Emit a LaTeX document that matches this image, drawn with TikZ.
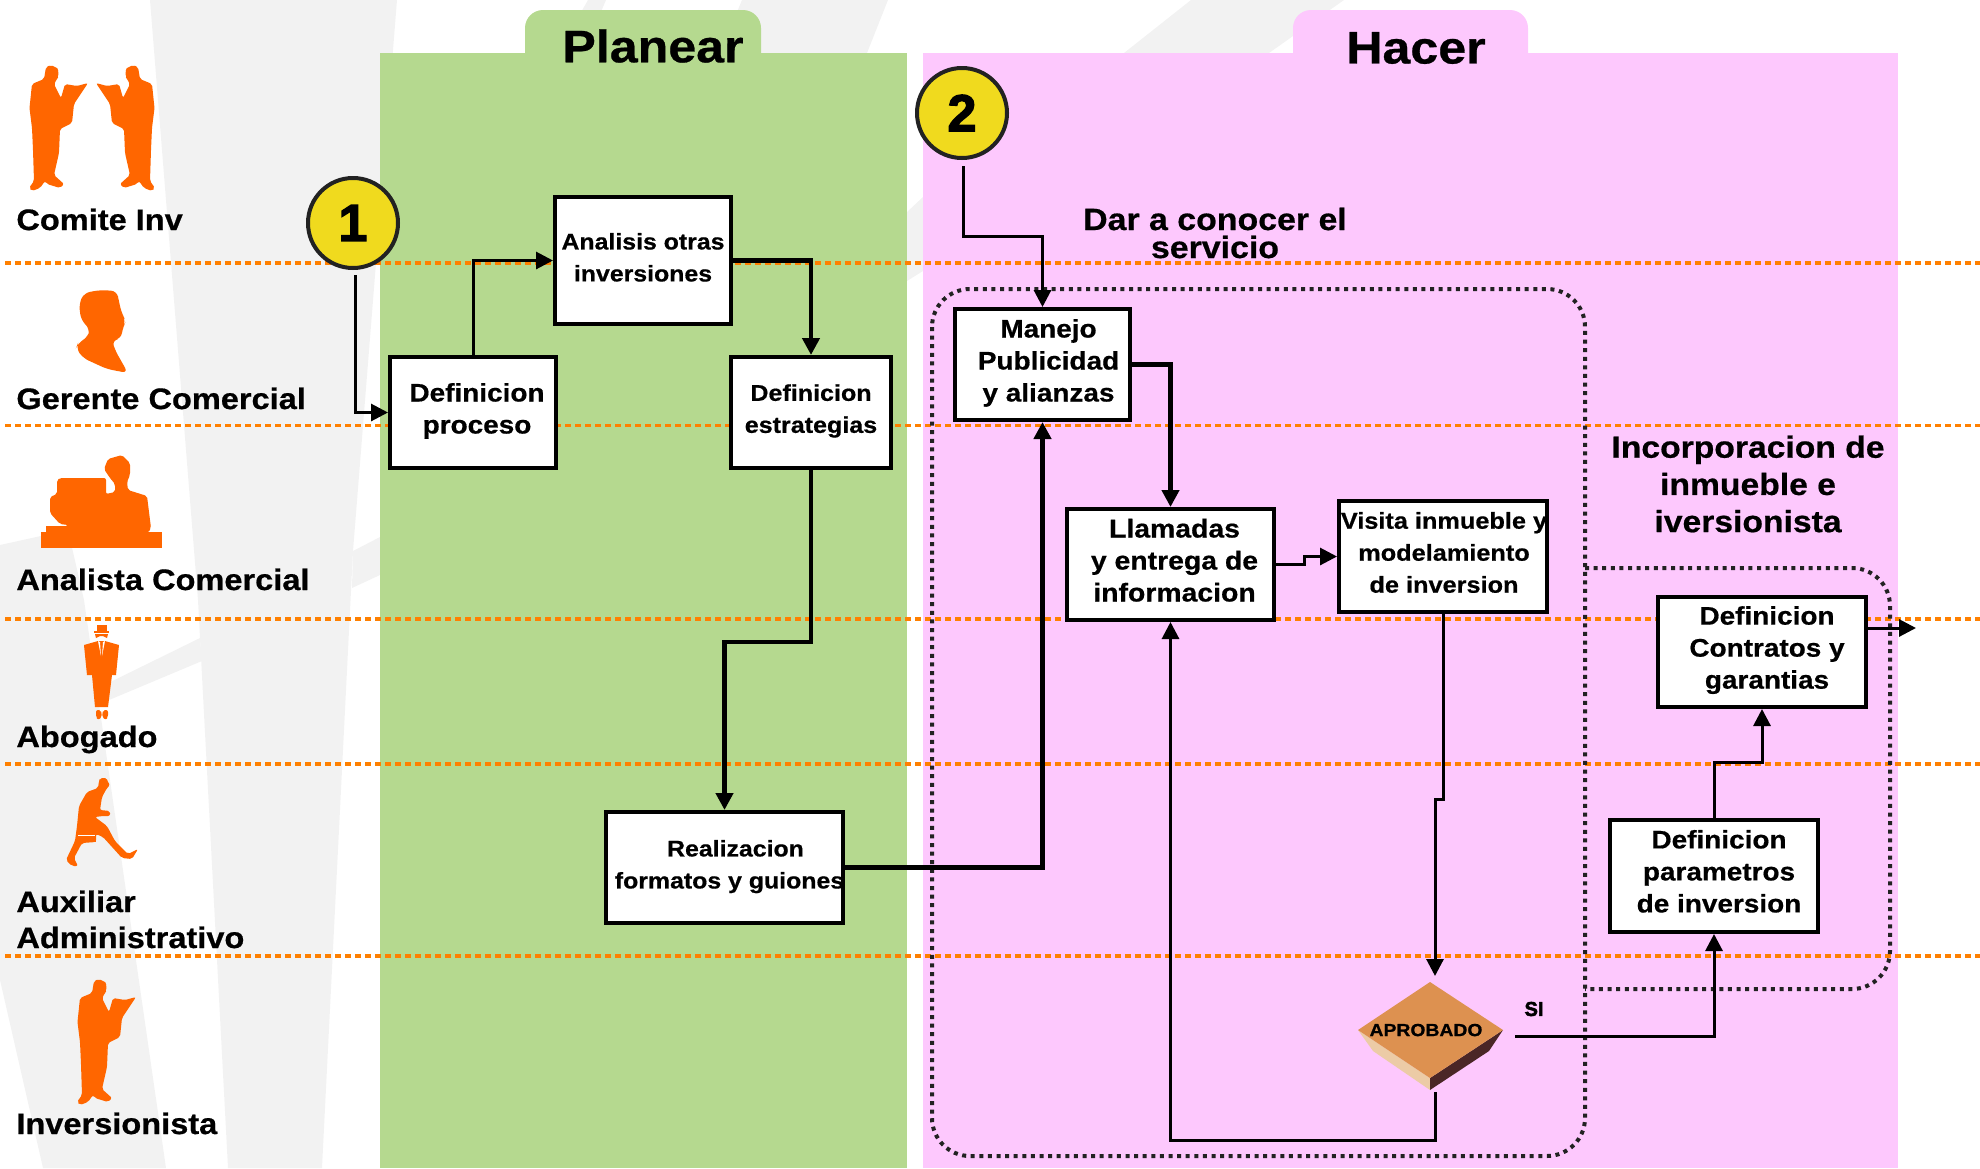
\documentclass[tikz,border=0pt]{standalone}
\usepackage{fontspec}
\setmainfont{Liberation Sans}
\newfontfamily\wf[FakeStretch=1.1,FakeBold=0.6]{Liberation Sans}
\newfontfamily\hv[FakeBold=2.5]{Liberation Sans}
\usetikzlibrary{arrows.meta,calc}
\definecolor{bggray}{HTML}{F2F2F2}
\definecolor{panelgreen}{HTML}{B5D98F}
\definecolor{panelpink}{HTML}{FDC8FD}
\definecolor{laneorange}{HTML}{FF8000}
\definecolor{figorange}{HTML}{FF6600}
\definecolor{badge}{HTML}{F0DA1E}
\definecolor{dotgray}{HTML}{222222}
\definecolor{diaface}{HTML}{DD9150}
\definecolor{dialeft}{HTML}{ECCBA6}
\definecolor{diaright}{HTML}{4A2626}
\newcommand\fs[2]{\fontsize{#1}{#2}\selectfont}
% text of a box, offset from the box centre (dx in half-pt, dy in pt)
\newcommand\tb[3]{\smash{\makebox[0pt]{\hspace*{#1pt}\raisebox{#2pt}{\begin{tabular}[c]{@{}c@{}}#3\end{tabular}}}}}
\newcommand\readerpath{(94,981) -- (99,979) -- (107,983) -- (105.5,987) -- (107,990) -- (105,993) -- (102,998) -- (109,1012) -- (113,998) -- (125,1000) -- (136,997) -- (128,1009) -- (122,1018) -- (120,1037) -- (108,1043) -- (107,1067) -- (102,1089) -- (112,1098) -- (108,1102) -- (95,1098) -- (93,1095) -- (88,1102) -- (80,1105) -- (77,1102) -- (82,1095) -- (81,1064) -- (80,1042) -- (77.5,1022) -- (80,998) -- (92,993) -- (93,987) -- cycle}
\tikzset{
  x=0.5pt,y=-0.5pt,
  every node/.style={inner sep=0pt},
  tile/.style={fill=bggray},
  lane/.style={draw=laneorange,line width=1.7pt,dash pattern=on 3.2pt off 1.8pt},
  zone/.style={draw=dotgray,line width=2pt,dash pattern=on 2pt off 2.3pt,rounded corners=19pt},
  fig/.style={fill=figorange,rounded corners=1pt},
  whoname/.style={anchor=base west,font=\wf\bfseries\fs{14.8}{18},align=left},
  stepbox/.style n args={2}{draw=black,fill=white,line width=2pt,minimum width=#1*0.5pt,minimum height=#2*0.5pt},
  badgenode/.style={circle,draw=dotgray,fill=badge,line width=2pt,minimum size=45pt,font=\hv\bfseries\fs{26}{26}},
  link/.style={draw=black,line width=2.3pt,-{Triangle[length=8.5pt,width=8.5pt]}},
  thinlink/.style={draw=black,line width=1.5pt,-{Triangle[length=8.5pt,width=8.5pt]}},
  phase/.style={font=\wf\bfseries\fs{22.8}{26}},
  heading/.style={font=\wf\bfseries\fs{15.4}{14},align=center},
}
\begin{document}
\begin{tikzpicture}
\useasboundingbox (0,0) rectangle (1980,1168);
% background tiles
\fill[tile] (150,0) -- (397,0) -- (353,551) -- (322,1168) -- (228,1168) -- (198,600) -- cycle;
\fill[tile] (0,545) -- (68,530) -- (84,600) -- (166,1168) -- (43,1168) -- (0,980) -- cycle;
\fill[tile] (90,692) -- (200,638) -- (202,661) -- (90,708) -- cycle;
\fill[tile] (353,551) -- (380,537) -- (380,575) -- (352,588) -- cycle;
\fill[tile] (907,212) -- (923,197) -- (923,271) -- (907,281) -- cycle;
\fill[tile] (1191,0) -- (1344,0) -- (1269,53) -- (1124,53) -- cycle;
\fill[tile] (742,0) -- (888,0) -- (867,53) -- (720,53) -- cycle;
\fill[tile] (588,0) -- (606,0) -- (600,14) -- (580,14) -- cycle;
% panels
\fill[panelgreen,rounded corners=9pt] (525,80) -- (525,10) -- (761,10) -- (761,80) -- cycle;
\fill[panelgreen] (380,53) rectangle (907,1168);
\fill[panelpink,rounded corners=9pt] (1293,80) -- (1293,10) -- (1528,10) -- (1528,80) -- cycle;
\fill[panelpink] (923,53) rectangle (1898,1168);
% lanes
\foreach \yy in {263,425.5,619,764,956} \draw[lane] (5,\yy) -- (1980,\yy);
% dotted zones
\draw[zone] (932,289) rectangle (1585,1156);
\draw[zone] (1585,568) -- (1890,568) -- (1890,989) -- (1585,989);
% figures
\fill[fig,shift={(-48,-914)}] \readerpath;
\fill[fig,shift={(232,-914)},xscale=-1] \readerpath;
\fill[fig] \readerpath;
\fill[fig,rounded corners=3pt] (79,304) -- (84,293) -- (100,290) -- (117,291) -- (119,302) -- (122,314) -- (126,321) -- (123,327) -- (121,339) -- (112,340) -- (115,350) -- (128,373) -- (107,369) -- (83,358) -- (76,348) -- (78,343) -- (88,337) -- (90,329) -- (81,320) -- cycle;
\fill[figorange] (41,532) rectangle (162,548);
\fill[figorange] (46,526) rectangle (70,534);
\fill[fig] (57,480) -- (60,478) -- (106,478) -- (106,494) -- (115,492) -- (115,484) -- (110,478) -- (104,469) -- (108,459) -- (122,455) -- (130,463) -- (130,475) -- (127,482) -- (128,490) -- (147,496) -- (151,528) -- (148,533) -- (68,533) -- (68,525) -- (60,524) -- (50,513) -- (50,497) -- (57,494) -- cycle;
% lawyer
\fill[figorange] (97,625) rectangle (107,631);
\fill[figorange] (94,630.5) rectangle (109,632.5);
\fill[figorange] (95,634) -- (108,634) -- (107,638) -- (103,636) -- (100,636) -- (96,638) -- cycle;
\fill[figorange] (84,645) -- (98,641) -- (105,641) -- (119,645) -- (116,675) -- (112,675) -- (108,707) -- (95,707) -- (92,675) -- (87,675) -- cycle;
\fill[white] (98,641) -- (101,656) -- (100,642) -- cycle;
\fill[white] (105,641) -- (102,656) -- (103,642) -- cycle;
\fill[fig] (96,710) -- (101,710) -- (102,717) -- (98,720) -- (96,717) -- cycle;
\fill[fig] (108,710) -- (103,710) -- (102,717) -- (106,720) -- (108,717) -- cycle;
% runner
\fill[fig] (99,781) -- (100,778) -- (107,778) -- (108,783) -- (110,785) -- (107,788) -- (102,797) -- (100,810) -- (110,811) -- (110,816) -- (103,816) -- (95,817) -- (107,826) -- (115,841) -- (128,854) -- (138,849) -- (132,859) -- (122,858) -- (103,837) -- (96,834) -- (96,842) -- (82,843) -- (74,858) -- (78,866) -- (72,866) -- (66,860) -- (75,841) -- (77,826) -- (79,806) -- (87,792) -- (98,788) -- cycle;
\fill[figorange] (77,828) rectangle (96,842);
\draw[white,line width=.5pt] (78,835) -- (95,835);
% diamond faces
\fill[dialeft] (1358,1030) -- (1430,1078) -- (1430,1090) -- (1373,1051) -- cycle;
\fill[diaright] (1503,1030) -- (1430,1078) -- (1430,1090) -- (1489,1051) -- cycle;
\fill[diaface] (1430,982) -- (1503,1030) -- (1430,1078) -- (1358,1030) -- cycle;
% role names
\node[whoname] (rComite) at (16,230) {Comite Inv};
\node[whoname] (rGerente) at (16,409) {Gerente Comercial};
\node[whoname] (rAnalista) at (16,590) {Analista Comercial};
\node[whoname] (rAbogado) at (16,747) {Abogado};
\node[whoname] (rAux1) at (16,912) {Auxiliar};
\node[whoname] (rAux2) at (16,948) {Administrativo};
\node[whoname] (rInv) at (16,1134) {Inversionista};
% titles
\node[phase] (tPlanear) at (653,46) {Planear};
\node[phase] (tHacer) at (1416,48) {Hacer};
\node[heading] (tDar) at (1215,233) {Dar a conocer el\\servicio};
\node[heading,font=\wf\bfseries\fs{15.3}{18.6}] (tInc) at (1748,484) {Incorporacion de\\inmueble e\\iversionista};
% process boxes
\node[stepbox={176}{127},font=\wf\bfseries\fs{11.3}{16}] (an) at (643,260.5) {\tb{0}{-2}{Analisis otras\\inversiones}};
\node[stepbox={166}{111},font=\wf\bfseries\fs{12.7}{16}] (dp) at (473,412.5) {\tb{4}{-2.3}{Definicion\\proceso}};
\node[stepbox={160}{111},font=\wf\bfseries\fs{11.4}{16}] (de) at (811,412.5) {\tb{0}{-1.7}{Definicion\\estrategias}};
\node[stepbox={237}{111},font=\wf\bfseries\fs{11.3}{16}] (re) at (724.5,867.5) {\tb{5}{-2}{\hspace*{6pt}Realizacion\\formatos y guiones}};
\node[stepbox={175}{111},font=\wf\bfseries\fs{12.7}{16}] (ma) at (1042.5,364.5) {\tb{6}{-2.3}{Manejo\\Publicidad\\y alianzas}};
\node[stepbox={207}{111},font=\wf\bfseries\fs{12.9}{16}] (ll) at (1170.5,564.5) {\tb{4}{-2.3}{Llamadas\\y entrega de\\informacion}};
\node[stepbox={208}{111},font=\wf\bfseries\fs{11.5}{16}] (vi) at (1443,556.5) {\tb{1}{-1.9}{Visita inmueble y\\modelamiento\\de inversion}};
\node[stepbox={208}{110},font=\wf\bfseries\fs{12.7}{16}] (co) at (1762,652) {\tb{5}{-2.1}{Definicion\\Contratos y\\garantias}};
\node[stepbox={208}{112},font=\wf\bfseries\fs{12.7}{16}] (pa) at (1714,876) {\tb{5}{-2}{Definicion\\parametros\\de inversion}};
% diamond label and SI
\node[minimum width=72pt,minimum height=48pt,font=\wf\bfseries\fs{8.8}{10}] (dia) at (1430,1030) {\tb{-4}{-3.3}{APROBADO}};
\node[font=\hv\bfseries\fs{10}{10}] (si) at (1534,1009) {SI};
% badges
\node[badgenode] (c1) at (353,223) {1};
\node[badgenode] (c2) at (962,113) {2};
% connector ends
\coordinate (c1o) at (355,275);
\coordinate (c2o) at (963,166);
\coordinate (diaT) at (1435,976);
\coordinate (diaB) at (1435,1092);
\coordinate (diaR) at (1515,1036);
\coordinate (out) at (1916,628);
% connectors
\draw[thinlink] (c1o) |- (dp.west);
\draw[thinlink] (dp.north) |- (an.west);
\draw[link] (an.east) -| (de.north);
\draw[link] (de.south) -- ++(0,172) -| (re.north);
\draw[link,line width=2.7pt] (re.east) -| (ma.south);
\draw[thinlink] (c2o) -- ++(0,70) -| (ma.north);
\draw[link] (ma.east) -| (ll.north);
\draw[thinlink] (ll.east) -| ($(vi.west)+(-33,0)$) -- (vi.west);
\draw[thinlink] (vi.south) -- ++(0,185) -| (diaT);
\draw[thinlink] (diaB) -- ++(0,48) -| (ll.south);
\draw[thinlink] (diaR) -| (pa.south);
\draw[thinlink] (pa.north) -- ++(0,-56) -| (co.south);
\draw[thinlink] (co.east |- out) -- (out);
\end{tikzpicture}
\end{document}
